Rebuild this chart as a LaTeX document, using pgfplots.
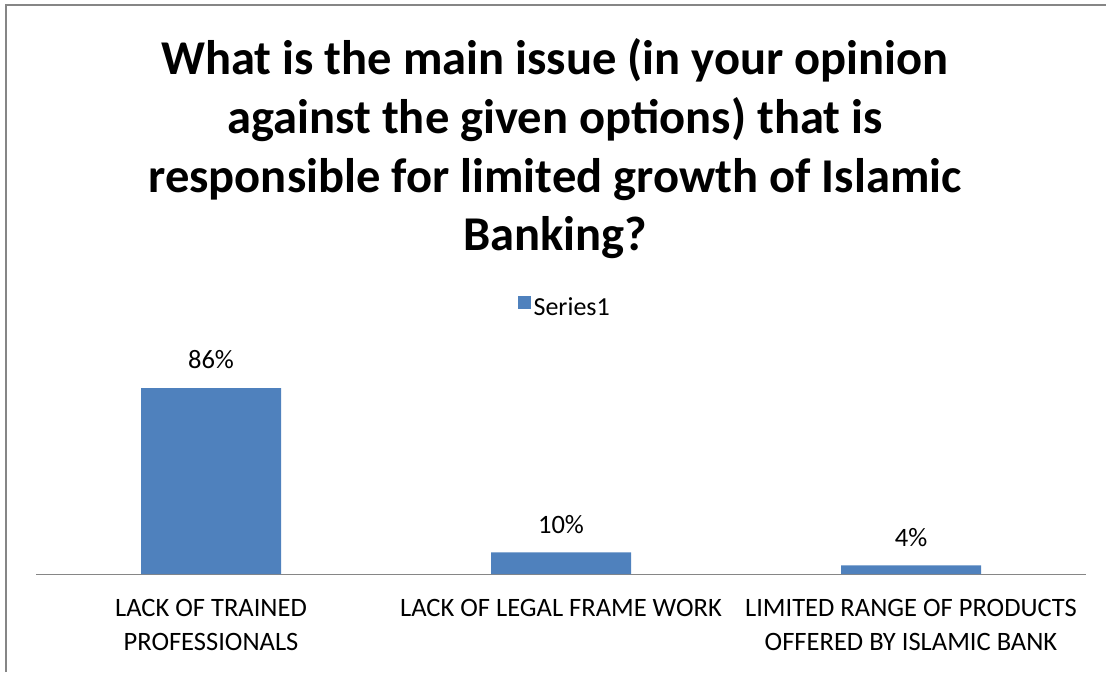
\documentclass[border=0pt]{standalone}
\usepackage{fontspec}
\setmainfont{Carlito}
\usepackage{pgfplots}
\pgfplotsset{compat=1.18}
\definecolor{barblue}{HTML}{4F81BD}
\definecolor{axgray}{HTML}{868686}
\begin{document}
\begin{tikzpicture}[x=0.75pt,y=0.75pt]
\path[use as bounding box] (0,0) rectangle (1106,672);
\draw[axgray, line width=1.5pt] (5.5,0) -- (5.5,666.5) -- (1106,666.5);
\node[font=\bfseries\fontsize{36.4}{44}\selectfont, align=center] at (555,523) {What is the main issue (in your opinion\\against the given options) that is\\responsible for limited growth of Islamic\\Banking?};
\begin{axis}[
  at={(27pt,73.5pt)}, anchor=south west,
  scale only axis, width=787.5pt, height=162.2pt,
  xmin=-0.5, xmax=2.5, ymin=0, ymax=100,
  axis x line=bottom, axis y line=none,
  x axis line style={axgray, line width=0.75pt, -},
  ybar, bar width=105pt,
  xtick={0,1,2},
  xticklabels={{LACK OF TRAINED\\PROFESSIONALS},{LACK OF LEGAL FRAME WORK},{LIMITED RANGE OF PRODUCTS\\OFFERED BY ISLAMIC BANK}},
  xticklabel style={align=center, font=\fontsize{19.9}{25.5}\selectfont, anchor=north, inner sep=0pt, yshift=-19pt},
  major tick length=0pt,
  ytick=\empty,
  /pgf/number format/assume math mode=true,
  nodes near coords={\pgfmathprintnumber{\pgfplotspointmeta}\%},
  nodes near coords style={font=\fontsize{19.9}{22}\selectfont, anchor=south, inner sep=0pt, yshift=14pt, text=black},
  legend style={at={(0.504,1.234)}, anchor=center, draw=none, fill=none, font=\fontsize{19.5}{22}\selectfont, inner sep=0pt},
  legend image code/.code={\fill[barblue] (0pt,-1.5pt) rectangle (9.75pt,8.25pt);},
]
\addplot[fill=barblue, draw=none] coordinates {(0,86) (1,10) (2,4)};
\addlegendentry{Series1}
\end{axis}
\end{tikzpicture}
\end{document}
